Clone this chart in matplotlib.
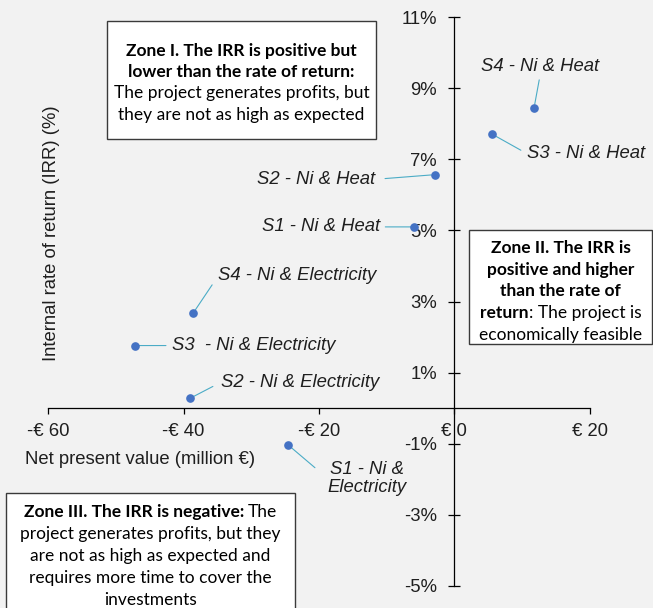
import matplotlib
matplotlib.use("Agg")
import matplotlib.pyplot as plt
from matplotlib.patches import Rectangle
from matplotlib.ticker import FixedLocator, FuncFormatter

# ---- data -------------------------------------------------------------
scenarios = ["S4 - Ni & Heat", "S3 - Ni & Heat", "S2 - Ni & Heat", "S1 - Ni & Heat",
             "S4 - Ni & Electricity", "S3  - Ni & Electricity",
             "S2 - Ni & Electricity", "S1 - Ni &\nElectricity"]
npv_meur = [11.8, 5.6, -2.9, -5.9, -38.6, -47.2, -39.0, -24.6]
irr_pct = [8.46, 7.71, 6.57, 5.10, 2.67, 1.76, 0.28, -1.03]
x_ticks = [-60, -40, -20, 0, 20]
y_ticks = [-5, -3, -1, 1, 3, 5, 7, 9, 11]

zone1_lines = [[("Zone I. The IRR is positive but", True)],
               [("lower than the rate of return:", True)],
               [("The project generates profits, but", False)],
               [("they are not as high as expected", False)]]
zone2_lines = [[("Zone II. The IRR is", True)],
               [("positive and higher", True)],
               [("than the rate of", True)],
               [("return", True), (": The project is", False)],
               [("economically feasible", False)]]
zone3_lines = [[("Zone III. The IRR is negative:", True), ("The", False)],
               [("project generates profits, but they", False)],
               [("are not as high as expected and", False)],
               [("requires more time to cover the", False)],
               [("investments", False)]]

# ---- style ------------------------------------------------------------
W, H = 653, 608
BG = "#F2F2F2"
TXT = "#1f1f1f"
DOT = "#4472C4"
LEAD = "#4BACC6"
SANS = "Liberation Sans"
ZONE_FONT = "Lato"
ZONE_SIZE = 12.5
FS = 13.3

fig = plt.figure(figsize=(W / 100, H / 100), dpi=100, facecolor=BG)
ax = fig.add_axes([48.3 / W, 1 - 585.7 / H, (589.6 - 48.3) / W, (585.7 - 17.3) / H])
ax.set_facecolor(BG)
ax.patch.set_alpha(0)
ax.set_xlim(-60, 20)
ax.set_ylim(-5, 11)

for side in ("top", "right"):
    ax.spines[side].set_visible(False)
ax.spines["left"].set_position(("data", 0))
ax.spines["bottom"].set_position(("data", 0))
for side in ("left", "bottom"):
    ax.spines[side].set_linewidth(0.9)
    ax.spines[side].set_color("#000000")

ax.xaxis.set_major_locator(FixedLocator(x_ticks))
ax.yaxis.set_major_locator(FixedLocator(y_ticks))
ax.xaxis.set_major_formatter(FuncFormatter(
    lambda v, p: ("-€ %d" % abs(v)) if v < 0 else ("€ %d" % v)))
ax.yaxis.set_major_formatter(FuncFormatter(lambda v, p: "%d%%" % v))
ax.tick_params(axis="y", direction="inout", length=8.4, width=0.9, pad=8.2,
               labelsize=FS, labelcolor=TXT)
ax.tick_params(axis="x", direction="out", length=4.3, width=0.9, pad=6.5,
               labelsize=FS, labelcolor=TXT)
for lab in ax.get_xticklabels() + ax.get_yticklabels():
    lab.set_fontfamily(SANS)

# ---- points and labels ------------------------------------------------
ax.plot(npv_meur, irr_pct, linestyle="none", marker="o", ms=5.2,
        color=DOT, clip_on=False, zorder=5)

# (dx px, dy px, ha, relpos, shrinkA pt)
label_layout = [
    (6, 41, "center", (0.5, 0.0), 1.5),
    (34.5, -19.3, "left", (0.0, 0.5), 2.5),
    (-60, -4.7, "right", (1.0, 0.5), 5.5),
    (-34.6, 0, "right", (1.0, 0.5), 2.0),
    (25.3, 37.7, "left", (0.0, 0.5), 4.5),
    (36.6, 0, "left", (0.0, 0.5), 2.0),
    (30.2, 15.7, "left", (0.0, 0.5), 4.0),
    (79, -33.5, "center", (0.0, 0.5), 9.0),
]
for name, xv, yv, (dx, dy, ha, rp, sh) in zip(scenarios, npv_meur, irr_pct, label_layout):
    ax.annotate(name, xy=(xv, yv), xytext=(dx, dy), textcoords="offset pixels",
                ha=ha, va="center", multialignment="center",
                fontsize=FS, fontstyle="italic", family=SANS, color=TXT,
                annotation_clip=False, linespacing=1.1,
                arrowprops=dict(arrowstyle="-", color=LEAD, lw=0.8,
                                relpos=rp, shrinkA=sh, shrinkB=2.5))

# ---- axis titles ------------------------------------------------------
fig.text(51.7 / W, 1 - 233.5 / H, "Internal rate of return (IRR) (%)",
         rotation=90, ha="center", va="center", fontsize=FS, family=SANS, color=TXT)
fig.text(25 / W, 1 - 459 / H, "Net present value (million €)",
         ha="left", va="center", fontsize=FS, family=SANS, color=TXT)

# ---- zone boxes -------------------------------------------------------
renderer = fig.canvas.get_renderer()


def text_width(s, weight):
    t = fig.text(0, 0, s, fontsize=ZONE_SIZE, family=ZONE_FONT, fontweight=weight)
    w = t.get_window_extent(renderer).width
    t.remove()
    return w


space_w = text_width("x x", "normal") - text_width("xx", "normal")


def zone_box(x0, y0, x1, y1, lines, baselines):
    fig.add_artist(Rectangle((x0 / W, 1 - y1 / H), (x1 - x0) / W, (y1 - y0) / H,
                             transform=fig.transFigure, facecolor="white",
                             edgecolor="#3a3a3a", lw=1.0, zorder=1))
    cx = (x0 + x1) / 2
    for segs, base in zip(lines, baselines):
        widths = [text_width(s, "bold" if b else "normal") for s, b in segs]
        gaps = [0] + [space_w if not s.startswith(":") else 0 for s, _ in segs[1:]]
        total = sum(widths) + sum(gaps)
        x = cx - total / 2
        for (s, b), w, g in zip(segs, widths, gaps):
            x += g
            fig.text(x / W, 1 - base / H, s, fontsize=ZONE_SIZE, family=ZONE_FONT,
                     fontweight="bold" if b else "normal", color="#000000",
                     ha="left", va="baseline", zorder=2)
            x += w


zone_box(107, 21, 376, 139, zone1_lines, [55.7, 77.0, 98.4, 119.8])
zone_box(469.3, 230, 652, 344, zone2_lines, [253.3, 274.8, 296.3, 318.0, 339.6])
zone_box(6, 493, 295, 640, zone3_lines, [517.3, 539.2, 561.2, 583.2, 605.0])

fig.savefig("out.png", dpi=100, facecolor=BG)
